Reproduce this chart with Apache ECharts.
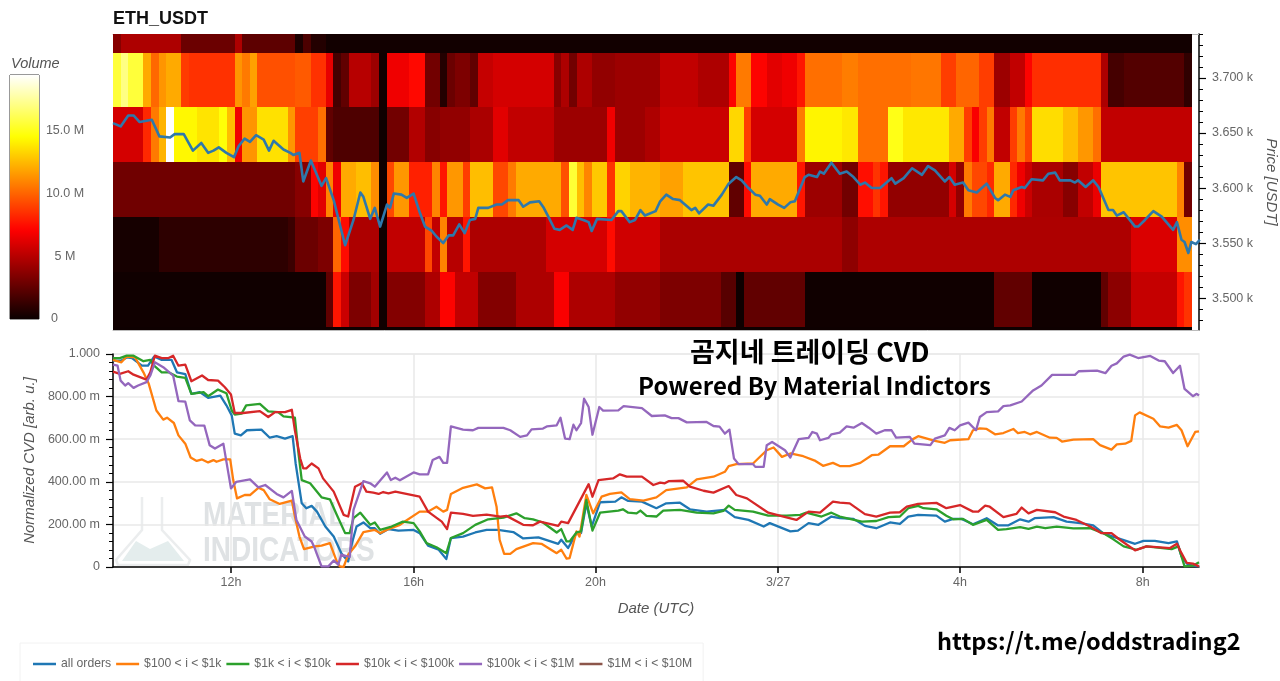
<!DOCTYPE html>
<html>
<head>
<meta charset="utf-8">
<title>ETH_USDT</title>
<style>
html,body{margin:0;padding:0;background:#fff;overflow:hidden}
#chart{width:1280px;height:681px}
</style>
<script src="https://cdn.jsdelivr.net/npm/echarts@6/dist/echarts.min.js"></script>
</head>
<body>
<div id="chart"></div>
<script>
// x values everywhere are minutes since the left edge of the window
var timeTicks = [155, 395, 634, 874, 1113, 1353];
var timeLabels = ['12h', '16h', '20h', '3/27', '4h', '8h'];
var timeMax = 1427;
var binMinutes = 9.985;
var binCount = 142;

var priceTicks = [3500, 3550, 3600, 3650, 3700];
var priceMinorTicks = [3480, 3490, 3510, 3520, 3530, 3540, 3560, 3570, 3580, 3590, 3610, 3620, 3630, 3640, 3660, 3670, 3680, 3690, 3710, 3720, 3730, 3740];
var priceMin = 3471, priceMax = 3740;

// volume bands: [first 10 min bin, volume in M], a run lasts until the next one
var priceEdges = [3740, 3723, 3673.5, 3623.5, 3573.5, 3524, 3474, 3471];
var bandA = [[0,3.6],[1,4.7],[9,2.8],[16,4.7],[17,2.4],[24,.5],[25,1.9],[26,.7],[28,.2]];
var bandB = [[0,15.6],[1,17],[2,15.6],[4,12],[5,10.1],[6,11.4],[7,12],[9,8.8],[10,8.5],[16,11.4],[17,10.6],[18,11.7],[19,9.4],[24,9.7],[26,8.5],[28,6.4],[29,1.7],[30,2.5],[31,5],[34,4.2],[35,.15],[36,6.65],[39,7.3],[41,3],[43,.7],[44,2.8],[45,3.3],[47,2.5],[48,5.4],[50,5.85],[58,3.6],[59,4.7],[60,3],[61,4.7],[63,3.9],[66,4.2],[72,5.3],[77,4.7],[81,7.1],[82,10.6],[84,7.1],[86,6.25],[88,6.65],[90,7.7],[91,10.3],[96,10.7],[98,10.3],[105,10.5],[109,8.85],[111,10],[114,8.85],[116,4.2],[118,5.3],[120,7.1],[121,8.4],[130,4.7],[131,1.7],[133,2.1],[141,1.1]];
var bandC = [[0,5.85],[4,8.25],[5,10.6],[6,12.3],[7,19.4],[8,14.3],[11,13.7],[14,14.6],[15,12.6],[16,6.65],[17,11.4],[19,13.6],[23,11.4],[24,8.9],[27,10.3],[28,2.5],[29,1.95],[35,.15],[36,3],[39,4.85],[41,3.6],[43,3.9],[47,4.6],[50,6.25],[52,5.3],[58,4.2],[65,6.65],[66,4.2],[70,4.7],[72,5.55],[81,13.3],[83,8.85],[84,5.85],[90,10.6],[91,14.2],[96,13.8],[98,10.3],[102,14.9],[104,13.8],[110,12],[112,8.85],[113,6.95],[114,8.85],[115,10.6],[116,5.3],[118,8.85],[119,10.6],[120,9.1],[121,13.5],[125,12.6],[127,11.45],[129,10.3],[130,5.3]];
var bandD = [[0,2.95],[24,3.6],[26,7.1],[27,6.25],[28,10.9],[29,6.65],[30,12],[32,12.6],[34,11.15],[35,.15],[36,9.15],[37,11.45],[39,8],[42,10.9],[43,7.7],[44,11.45],[46,8.85],[47,12.6],[50,9.15],[52,10.6],[53,12],[59,9.4],[60,15.5],[61,12.6],[62,10.9],[63,12.9],[65,8.55],[66,13.2],[68,12.3],[72,11.75],[75,12.75],[81,2.5],[83,7.4],[84,12],[90,7.7],[91,4.2],[96,3],[98,7.5],[100,8.55],[101,7.7],[102,3.9],[110,5.85],[111,3.9],[112,10.6],[113,9.15],[115,8.25],[116,12],[118,8.25],[119,6.65],[120,5.55],[121,4.6],[125,3.6],[127,5.3],[129,6.5],[130,12.75],[140,10.9],[141,3]];
var bandE = [[0,.33],[6,1],[23,1.4],[24,2.8],[27,3.3],[29,10],[30,7.4],[31,4.7],[35,.15],[36,5.3],[41,9.15],[42,5.3],[43,10.9],[44,5],[46,7.7],[47,4.7],[57,5.85],[65,7.4],[66,5.7],[72,4.6],[96,3.8],[98,4.7],[134,6],[140,11.15]];
var bandF = [[0,.15],[28,2.5],[29,7.7],[30,5.55],[31,3.3],[34,4.4],[35,.15],[36,3.5],[41,4.7],[43,7.1],[45,5.3],[48,3.5],[53,4.7],[58,6.95],[60,4.7],[66,3.9],[72,3.3],[80,2.2],[82,.1],[83,2.5],[91,.15],[116,2.5],[121,.15],[130,2.5],[131,3.75],[134,5.4],[140,7.7],[141,8.55]];
var bandG = [[0,.1]];
var bands = [bandA, bandB, bandC, bandD, bandE, bandF, bandG];

var volumeMax = 19.4;
var volumeTicks = [0, 5, 10, 15];
var volumeLabels = ['0      ', '5 M', '10.0 M', '15.0 M'];

var priceLine = [[0,3659],[10,3656],[20,3666],[27,3666],[35,3660],[51,3662],[61,3647],[75,3646],[81,3649],[93,3649],[105,3634],[116,3641],[125,3632],[132,3634],[139,3637],[149,3632],[159,3628],[165,3638],[173,3645],[180,3642],[188,3648],[198,3644],[205,3634],[211,3643],[224,3635],[233,3632],[237,3630],[245,3632],[250,3606],[260,3625],[274,3602],[280,3609],[290,3589],[305,3548],[316,3571],[325,3596],[329,3592],[338,3572],[344,3582],[351,3565],[360,3585],[364,3582],[369,3595],[379,3594],[386,3591],[395,3595],[403,3578],[410,3565],[419,3561],[425,3556],[434,3550],[441,3557],[447,3557],[455,3567],[462,3559],[469,3571],[476,3572],[480,3582],[493,3582],[504,3585],[511,3585],[519,3589],[533,3589],[539,3583],[548,3587],[560,3588],[566,3582],[572,3574],[580,3563],[587,3562],[596,3566],[604,3562],[609,3573],[618,3571],[625,3569],[629,3561],[636,3572],[655,3571],[664,3579],[668,3579],[679,3569],[686,3571],[693,3580],[699,3575],[713,3579],[719,3588],[727,3594],[736,3590],[745,3589],[760,3580],[765,3582],[770,3577],[782,3585],[789,3584],[800,3594],[809,3604],[819,3610],[826,3607],[835,3600],[844,3594],[850,3593],[859,3585],[863,3590],[874,3585],[882,3582],[890,3587],[896,3588],[909,3610],[914,3612],[925,3610],[929,3615],[934,3613],[944,3623],[955,3613],[964,3615],[973,3610],[982,3603],[988,3605],[997,3600],[1008,3600],[1023,3609],[1028,3604],[1039,3609],[1050,3618],[1063,3612],[1071,3620],[1080,3616],[1093,3606],[1099,3610],[1106,3603],[1117,3605],[1124,3598],[1135,3596],[1148,3604],[1159,3591],[1163,3589],[1172,3594],[1179,3592],[1183,3598],[1194,3601],[1198,3600],[1207,3608],[1222,3607],[1229,3613],[1238,3614],[1244,3607],[1258,3607],[1264,3605],[1268,3607],[1278,3601],[1288,3607],[1295,3601],[1308,3580],[1314,3580],[1319,3575],[1328,3578],[1343,3565],[1347,3565],[1356,3571],[1367,3579],[1378,3574],[1393,3562],[1398,3569],[1404,3553],[1408,3551],[1413,3541],[1417,3551],[1423,3549],[1428,3553]];

// normalized CVD, in thousandths
var cvdTicks = 200;
var cvdAll = [[0,969],[11,969],[18,984],[25,981],[38,945],[46,945],[54,988],[64,972],[77,972],[84,914],[95,906],[103,813],[114,821],[125,794],[141,805],[149,759],[156,712],[160,626],[168,618],[176,642],[195,645],[206,607],[215,614],[226,603],[236,614],[240,486],[248,299],[254,276],[261,287],[268,260],[279,190],[290,143],[300,65],[309,26],[314,112],[320,190],[329,209],[338,182],[344,182],[351,156],[362,178],[375,171],[395,174],[403,159],[414,100],[428,81],[438,37],[444,136],[460,143],[476,162],[491,174],[506,174],[526,164],[539,134],[559,139],[585,109],[589,128],[598,89],[609,159],[615,159],[622,299],[629,190],[640,304],[660,307],[668,327],[677,310],[695,307],[714,276],[727,299],[745,302],[758,271],[780,260],[804,268],[817,234],[835,221],[855,190],[863,206],[890,167],[900,171],[914,206],[927,198],[944,237],[955,229],[973,226],[988,193],[1003,182],[1021,209],[1034,202],[1045,237],[1058,245],[1082,241],[1093,213],[1104,226],[1115,226],[1130,201],[1148,229],[1163,195],[1176,195],[1192,224],[1203,213],[1211,229],[1236,234],[1253,213],[1271,206],[1288,195],[1301,159],[1314,143],[1343,109],[1354,123],[1369,123],[1387,112],[1398,120],[1404,50],[1411,16],[1419,6],[1427,3]];
var cvd100 = [[0,972],[11,961],[18,988],[29,984],[40,914],[47,860],[57,735],[66,692],[71,701],[80,676],[86,618],[95,579],[102,514],[110,498],[117,505],[125,491],[132,502],[136,494],[145,505],[154,505],[158,408],[163,322],[173,338],[180,338],[191,372],[198,361],[206,318],[219,296],[235,312],[239,237],[245,143],[251,84],[265,97],[274,100],[285,112],[294,26],[298,3],[303,0],[309,58],[318,97],[329,164],[344,174],[351,159],[362,178],[377,198],[403,260],[414,260],[425,283],[434,260],[439,268],[444,343],[460,372],[478,388],[489,369],[498,374],[504,283],[508,128],[514,62],[522,62],[530,84],[552,112],[563,109],[583,65],[589,81],[596,39],[600,42],[609,167],[613,143],[622,338],[631,252],[642,330],[653,343],[668,350],[679,319],[697,312],[714,327],[727,361],[754,374],[767,411],[789,424],[804,447],[809,474],[819,483],[841,486],[859,548],[868,561],[879,517],[890,533],[907,520],[923,498],[933,475],[946,489],[955,474],[968,474],[982,489],[997,525],[1006,528],[1021,567],[1039,567],[1050,598],[1058,614],[1080,592],[1093,583],[1100,595],[1124,600],[1130,642],[1139,651],[1148,648],[1159,623],[1170,629],[1183,648],[1189,629],[1198,634],[1205,623],[1214,634],[1231,607],[1240,606],[1247,589],[1262,598],[1288,600],[1297,572],[1312,551],[1319,576],[1330,579],[1338,592],[1343,712],[1349,726],[1367,696],[1376,660],[1387,654],[1398,667],[1404,642],[1412,567],[1422,634],[1427,637]];
var cvd1k = [[0,981],[9,981],[18,992],[27,992],[40,966],[49,972],[54,945],[64,914],[73,914],[84,894],[95,888],[103,813],[110,816],[119,821],[125,802],[138,833],[149,816],[156,735],[160,716],[169,720],[175,759],[193,766],[204,731],[217,727],[224,707],[239,701],[244,525],[248,408],[259,393],[274,327],[285,318],[294,245],[305,159],[311,159],[316,229],[325,255],[338,198],[344,209],[351,174],[366,190],[381,213],[395,206],[403,167],[412,112],[425,93],[438,65],[444,136],[460,159],[476,198],[493,224],[513,232],[530,252],[541,229],[552,224],[565,209],[583,162],[589,178],[596,120],[600,120],[609,162],[615,167],[622,315],[630,171],[640,255],[664,265],[670,271],[677,255],[688,252],[693,265],[701,240],[714,237],[723,265],[745,268],[767,255],[789,252],[802,263],[809,288],[817,268],[841,260],[861,241],[885,241],[903,245],[911,255],[931,237],[944,255],[955,237],[968,226],[984,213],[1003,216],[1019,234],[1034,237],[1045,276],[1058,287],[1065,276],[1082,271],[1095,241],[1104,224],[1117,226],[1130,198],[1148,221],[1163,174],[1174,178],[1192,187],[1203,179],[1214,190],[1225,182],[1240,190],[1262,181],[1284,182],[1301,159],[1314,131],[1328,97],[1345,81],[1358,97],[1391,84],[1400,97],[1408,3],[1419,6],[1427,22]];
var cvd10k = [[0,917],[9,907],[20,919],[27,903],[44,880],[49,914],[55,992],[64,981],[73,981],[79,992],[86,945],[95,950],[103,872],[117,899],[125,878],[138,875],[147,844],[155,810],[160,723],[171,723],[193,732],[204,704],[213,727],[226,727],[235,738],[239,642],[246,509],[250,463],[254,463],[261,486],[270,463],[276,416],[290,354],[303,245],[309,237],[318,377],[327,393],[333,354],[342,349],[349,343],[355,352],[362,346],[371,354],[403,330],[414,260],[432,213],[439,178],[444,255],[460,249],[473,240],[491,246],[509,237],[517,240],[539,198],[552,196],[561,213],[585,193],[589,213],[598,206],[625,389],[630,330],[638,408],[657,416],[666,435],[675,424],[695,424],[710,385],[719,396],[725,393],[730,403],[749,405],[758,377],[776,358],[789,349],[809,380],[819,338],[833,322],[861,255],[881,237],[898,221],[914,260],[929,255],[946,307],[955,302],[968,299],[988,248],[1003,237],[1021,255],[1034,257],[1043,283],[1058,296],[1082,301],[1095,276],[1113,291],[1130,260],[1137,260],[1146,288],[1152,283],[1170,234],[1187,249],[1194,279],[1203,252],[1214,268],[1238,257],[1249,237],[1266,221],[1284,190],[1299,159],[1312,159],[1323,128],[1343,78],[1358,97],[1389,89],[1398,109],[1404,65],[1411,19],[1419,16],[1427,3]];
var cvd100k = [[0,950],[6,945],[10,875],[16,852],[20,863],[27,841],[33,852],[44,868],[49,899],[55,961],[66,938],[79,899],[86,779],[95,776],[101,688],[108,665],[120,664],[127,572],[134,556],[145,579],[155,369],[162,400],[180,411],[191,374],[200,385],[215,343],[224,327],[235,357],[241,221],[252,143],[261,120],[265,89],[274,3],[283,3],[290,31],[296,11],[300,58],[311,47],[316,268],[322,330],[329,403],[338,393],[344,377],[360,444],[365,408],[371,419],[377,407],[395,444],[403,435],[414,435],[420,502],[429,517],[434,489],[439,489],[444,660],[460,645],[473,642],[480,653],[513,653],[522,642],[535,611],[544,618],[550,646],[565,650],[570,660],[583,665],[588,701],[594,603],[600,600],[605,668],[609,642],[615,676],[619,790],[625,751],[630,621],[639,751],[644,734],[664,735],[671,755],[695,746],[708,709],[725,712],[734,699],[743,699],[754,679],[780,681],[789,662],[797,659],[804,626],[810,645],[816,509],[822,483],[841,483],[844,470],[855,470],[859,572],[866,587],[883,548],[890,514],[901,600],[914,606],[919,634],[925,626],[929,595],[940,606],[944,623],[955,631],[964,660],[973,654],[984,676],[993,654],[1003,626],[1014,642],[1023,642],[1029,607],[1047,611],[1053,579],[1074,572],[1080,603],[1093,618],[1099,653],[1106,642],[1113,665],[1124,678],[1134,642],[1139,704],[1148,727],[1163,731],[1170,755],[1179,759],[1194,777],[1209,829],[1220,852],[1234,902],[1264,902],[1269,919],[1293,922],[1304,910],[1312,945],[1319,956],[1328,988],[1336,997],[1347,981],[1363,991],[1374,969],[1382,966],[1393,911],[1402,945],[1408,836],[1419,802],[1424,813],[1427,805]];
var cvd1m = [];

var cvdNames = ['all orders', '$100 < i < $1k', '$1k < i < $10k', '$10k < i < $100k', '$100k < i < $1M', '$1M < i < $10M'];
var cvdValues = [cvdAll, cvd100, cvd1k, cvd10k, cvd100k, cvd1m];
var cvdColors = ['#1f77b4', '#ff7f0e', '#2ca02c', '#d62728', '#9467bd', '#8c564b'];

var labelFont = '"Liberation Sans", Arial, sans-serif';
var labelColor = '#666';
var nameColor = '#555';
var overlayFont = '"Noto Sans CJK KR", sans-serif';
var markFont = 'bold 35px "Liberation Sans", sans-serif';

// matplotlib style "hot" map
function hotColor(t) {
  var clamp = function (v) { return Math.max(0, Math.min(1, v)); };
  var r = clamp(0.0416 + t / 0.365 * 0.9584);
  var g = clamp((t - 0.365) / 0.381);
  var b = clamp((t - 0.746) / 0.254);
  return 'rgb(' + Math.round(r * 255) + ',' + Math.round(g * 255) + ',' + Math.round(b * 255) + ')';
}
var hotStops = [];
for (var s = 0; s <= 64; s++) hotStops.push(hotColor(s / 64));

var cells = [];
bands.forEach(function (runs, b) {
  runs.forEach(function (run, i) {
    var next = i + 1 < runs.length ? runs[i + 1][0] : binCount;
    cells.push([run[0] * binMinutes, next * binMinutes, priceEdges[b + 1], priceEdges[b], run[1]]);
  });
});

function renderCell(params, api) {
  var a = api.coord([api.value(0), api.value(3)]);
  var b = api.coord([api.value(1), api.value(2)]);
  var x = Math.round(a[0]), y = Math.round(a[1]);
  return {
    type: 'rect',
    shape: { x: x, y: y, width: Math.round(b[0]) - x, height: Math.round(b[1]) - y },
    style: { fill: api.visual('color') }
  };
}

var cvdSeries = cvdNames.map(function (name, i) {
  return {
    name: name,
    type: 'line',
    xAxisIndex: 2,
    yAxisIndex: 2,
    data: cvdValues[i],
    showSymbol: false,
    symbol: 'none',
    lineStyle: { color: cvdColors[i], width: 2.3, join: 'round' },
    itemStyle: { color: cvdColors[i] },
    z: 3 + i
  };
});

var chart = echarts.init(document.getElementById('chart'), null, { renderer: 'canvas' });
chart.setOption({
  animation: false,
  backgroundColor: '#fff',
  title: [
    { text: 'ETH_USDT', left: 113, top: 10, padding: 0, textStyle: { fontFamily: labelFont, fontWeight: 'bold', fontSize: 18, color: '#111' } },
    { text: 'Volume', left: 11, top: 56, padding: 0, textStyle: { fontFamily: labelFont, fontStyle: 'italic', fontWeight: 'normal', fontSize: 14.5, color: nameColor } },
    { text: '곰지네 트레이딩 CVD', left: 690, top: 338, padding: 0, z: 20, textStyle: { fontFamily: overlayFont, fontWeight: 'bold', fontSize: 27, color: '#000' } },
    { text: 'Powered By Material Indictors', left: 638, top: 374, padding: 0, z: 20, textStyle: { fontFamily: overlayFont, fontWeight: 'bold', fontSize: 24, color: '#000' } },
    { text: 'https://t.me/oddstrading2', left: 937, top: 629, padding: 0, z: 20, textStyle: { fontFamily: overlayFont, fontWeight: 'bold', fontSize: 23.5, color: '#000' } }
  ],
  legend: {
    data: cvdNames,
    left: 20,
    top: 643,
    padding: [15, 11, 15, 13],
    icon: 'rect',
    itemWidth: 23,
    itemHeight: 2.5,
    itemGap: 5,
    borderColor: '#f2f2f2',
    borderWidth: 1,
    selectedMode: false,
    textStyle: { fontFamily: labelFont, fontSize: 12.2, color: labelColor }
  },
  grid: [
    { left: 113, right: 81, top: 34, height: 296, outerBoundsMode: 'none' },
    { left: 113, right: 81, top: 354, height: 213, show: true, borderColor: '#eee', borderWidth: 1.5, outerBoundsMode: 'none' },
    { left: 10, width: 29, top: 75, height: 244, show: true, borderColor: '#333', borderWidth: 1, outerBoundsMode: 'none' }
  ],
  visualMap: { show: false, seriesIndex: 0, dimension: 4, min: 0, max: volumeMax, inRange: { color: hotStops } },
  xAxis: [
    { gridIndex: 0, type: 'value', min: 0, max: timeMax, position: 'bottom', axisLine: { onZero: false, lineStyle: { color: '#bbb' } }, axisTick: { show: false }, axisLabel: { show: false }, splitLine: { show: false } },
    { gridIndex: 0, type: 'value', min: 0, max: timeMax, position: 'top', axisLine: { onZero: false, lineStyle: { color: '#bbb' } }, axisTick: { show: false }, axisLabel: { show: false }, splitLine: { show: false } },
    {
      gridIndex: 1, type: 'value', min: 0, max: timeMax,
      name: 'Date (UTC)', nameLocation: 'middle', nameGap: 34,
      nameTextStyle: { fontFamily: labelFont, fontStyle: 'italic', fontSize: 15, color: nameColor },
      axisLine: { onZero: false, lineStyle: { color: '#000', width: 1.5 } },
      axisTick: { customValues: timeTicks, length: 6, lineStyle: { color: '#000', width: 1.5 } },
      axisLabel: {
        customValues: timeTicks, margin: 9, fontFamily: labelFont, fontSize: 12.5, color: labelColor,
        formatter: function (v) { return timeLabels[timeTicks.indexOf(v)]; }
      },
      splitLine: { show: true, lineStyle: { color: '#e8e8e8', width: 1.5 } }
    },
    { gridIndex: 2, type: 'category', data: ['volume'], show: false }
  ],
  yAxis: [
    {
      gridIndex: 0, type: 'value', min: priceMin, max: priceMax, position: 'right',
      name: 'Price [USDT]', nameLocation: 'middle', nameRotate: -90, nameGap: 59,
      nameTextStyle: { fontFamily: labelFont, fontStyle: 'italic', fontSize: 15, color: nameColor },
      axisLine: { show: true, onZero: false, lineStyle: { color: '#000', width: 1.5 } },
      axisTick: { customValues: priceTicks, length: 7, lineStyle: { color: '#000', width: 1.2 } },
      axisLabel: {
        customValues: priceTicks, margin: 13, fontFamily: labelFont, fontSize: 12.5, color: labelColor,
        formatter: function (v) { return (v / 1000).toFixed(3) + ' k'; }
      },
      splitLine: { show: false }
    },
    {
      gridIndex: 0, type: 'value', min: priceMin, max: priceMax, position: 'right',
      axisLine: { show: false, onZero: false },
      axisTick: { customValues: priceMinorTicks, length: 4, lineStyle: { color: '#000', width: 1 } },
      axisLabel: { show: false },
      splitLine: { show: false }
    },
    {
      gridIndex: 1, type: 'value', min: 0, max: 1000, interval: cvdTicks,
      name: 'Normalized CVD [arb. u.]', nameLocation: 'middle', nameGap: 66,
      nameTextStyle: { fontFamily: labelFont, fontStyle: 'italic', fontSize: 15, color: nameColor },
      axisLine: { show: true, onZero: false, lineStyle: { color: '#000', width: 1.5 } },
      axisTick: { length: 7, lineStyle: { color: '#000', width: 1.2 } },
      minorTick: { show: true, splitNumber: 5, length: 4, lineStyle: { color: '#000', width: 1 } },
      axisLabel: {
        margin: 13, fontFamily: labelFont, fontSize: 12.5, color: labelColor,
        formatter: function (v) {
          if (v === 0) return '0';
          if (v === 1000) return '1.000';
          return v.toFixed(2) + ' m';
        }
      },
      splitLine: { show: true, lineStyle: { color: '#e8e8e8', width: 1.5 } }
    },
    {
      gridIndex: 2, type: 'value', min: 0, max: volumeMax, position: 'right', z: 5,
      axisLine: { show: false, onZero: false },
      axisTick: { customValues: volumeTicks, inside: true, length: 6, lineStyle: { color: '#222', width: 1 } },
      axisLabel: {
        customValues: volumeTicks, margin: 26, align: 'center', fontFamily: labelFont, fontSize: 12.5, color: labelColor,
        formatter: function (v) { return volumeLabels[volumeTicks.indexOf(v)]; }
      },
      splitLine: { show: false }
    }
  ],
  graphic: [
    { type: 'polyline', z: 0, silent: true, shape: { points: [[142, 497], [142, 530], [116, 560], [118, 565], [188, 565], [190, 560], [162, 530], [162, 497]] }, style: { stroke: '#ebedee', lineWidth: 2.5, fill: null } },
    { type: 'polygon', z: 0, silent: true, shape: { points: [[122, 561], [136, 541], [150, 549], [168, 541], [184, 561]] }, style: { fill: '#e4eded' } },
    { type: 'text', z: 0, silent: true, x: 203, y: 499, scaleX: 0.8, style: { text: 'MATERIAL', fill: '#dfe2e4', font: markFont } },
    { type: 'text', z: 0, silent: true, x: 203, y: 534, scaleX: 0.8, style: { text: 'INDICATORS', fill: '#dfe2e4', font: markFont } }
  ],
  series: [
    {
      type: 'custom',
      xAxisIndex: 0,
      yAxisIndex: 0,
      data: cells,
      encode: { x: [0, 1], y: [2, 3] },
      renderItem: renderCell,
      clip: true,
      z: 1
    },
    {
      name: 'Price',
      type: 'line',
      xAxisIndex: 0,
      yAxisIndex: 0,
      data: priceLine,
      showSymbol: false,
      symbol: 'none',
      clip: false,
      lineStyle: { color: '#2e78ab', width: 2.6, join: 'round' },
      z: 3
    },
    {
      type: 'bar',
      xAxisIndex: 3,
      yAxisIndex: 3,
      data: [volumeMax],
      barWidth: '100%',
      silent: true,
      z: 1,
      itemStyle: {
        color: new echarts.graphic.LinearGradient(0, 1, 0, 0, hotStops.map(function (c, i) {
          return { offset: i / (hotStops.length - 1), color: c };
        }))
      }
    }
  ].concat(cvdSeries)
});
</script>
</body>
</html>
